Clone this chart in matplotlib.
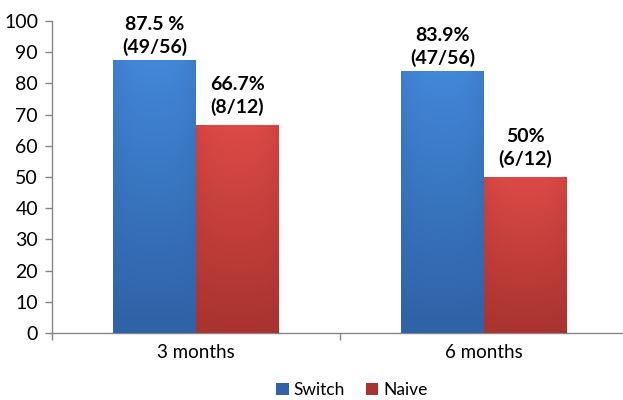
import matplotlib
matplotlib.use("Agg")
import matplotlib.pyplot as plt
import numpy as np
from matplotlib.colors import LinearSegmentedColormap

plt.rcParams['font.family'] = ['Lato', 'DejaVu Sans']

categories = ["3 months", "6 months"]
series_names = ["Switch", "Naive"]
switch_vals = [87.5, 83.9]
naive_vals = [66.7, 50]
switch_labels = ["87.5 %\n(49/56)", "83.9%\n(47/56)"]
naive_labels = ["66.7%\n(8/12)", "50%\n(6/12)"]

blue_top, blue_bot = "#4287d8", "#2f62a6"
red_top, red_bot = "#dc4a46", "#a9332f"

fig = plt.figure(figsize=(6.23, 4.0), dpi=100)
ax = fig.add_axes([52 / 623, 1 - 333 / 400, 576 / 623, 312 / 400])

x = np.arange(len(categories))
w = 0.288


def grad_bars(xs, vals, top, bot, label):
    bars = ax.bar(xs, vals, w, color=bot, edgecolor="none", label=label, zorder=2)
    cmap = LinearSegmentedColormap.from_list("g", [bot, top])
    for b in bars:
        x0, y0 = b.get_x(), b.get_y()
        bw, bh = b.get_width(), b.get_height()
        vert = np.linspace(0, 1, 64)[:, None]
        horiz = 1 - 0.25 * np.abs(np.linspace(-1, 1, 32))[None, :] ** 3
        img = vert * horiz
        im = ax.imshow(img, cmap=cmap, vmin=0, vmax=1, origin="lower",
                       extent=[x0, x0 + bw, y0, y0 + bh], aspect="auto", zorder=3)
        im.set_clip_path(b)
    return bars


grad_bars(x - w / 2, switch_vals, blue_top, blue_bot, series_names[0])
grad_bars(x + w / 2, naive_vals, red_top, red_bot, series_names[1])

for xi, v, lab in zip(x - w / 2, switch_vals, switch_labels):
    ax.annotate(lab, (xi, v), xytext=(0, 3), textcoords="offset points",
                ha="center", va="bottom", fontsize=14, fontweight="bold",
                linespacing=1.3)
for xi, v, lab in zip(x + w / 2, naive_vals, naive_labels):
    ax.annotate(lab, (xi, v), xytext=(0, 6.5), textcoords="offset points",
                ha="center", va="bottom", fontsize=14, fontweight="bold",
                linespacing=1.3)

ax.set_xlim(-0.5, len(categories) - 0.5)
ax.set_ylim(0, 100)
ax.set_yticks(range(0, 101, 10))
ax.set_xticks(x)
ax.set_xticklabels(categories)
ax.set_xticks(np.arange(-0.5, len(categories), 1), minor=True)
ax.tick_params(axis="x", which="major", length=0, labelsize=13.5, pad=8)
ax.tick_params(axis="x", which="minor", length=5, color="#868686", width=1)
ax.tick_params(axis="y", length=5, color="#868686", width=1, labelsize=14, pad=5)

for s in ["top", "right"]:
    ax.spines[s].set_visible(False)
for s in ["left", "bottom"]:
    ax.spines[s].set_color("#868686")
    ax.spines[s].set_linewidth(1)
ax.set_facecolor("none")

ax.legend(loc="center", bbox_to_anchor=(352 / 623, 10 / 400), bbox_transform=fig.transFigure,
          ncol=2, frameon=False, fontsize=12.5, handlelength=0.7, handleheight=0.7,
          handletextpad=0.3, columnspacing=1.2)

fig.savefig("out.png", dpi=100)
